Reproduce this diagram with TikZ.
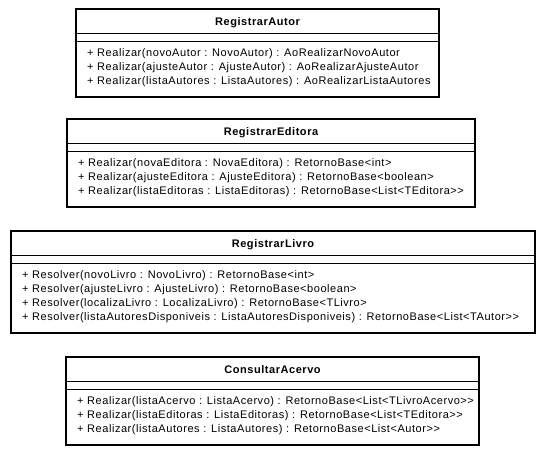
\documentclass[tikz,border=0pt]{standalone}
\usepackage{fontspec}
\setmainfont{Liberation Sans}[LetterSpace=5, Ligatures=TeXOff]
\usepackage{tikz}

\begin{document}
\begin{tikzpicture}[x=1pt, y=-1pt, font=\fontsize{11}{14}\selectfont]
		\tikzstyle{classbox} = [rectangle, anchor=north west, draw=black, line width=2pt, inner sep=0pt, outer sep=0pt, minimum height=88pt]
		
		\tikzstyle{classname} = [anchor=base, inner sep=0pt, font=\fontsize{11}{14}\selectfont\bfseries]
		
		\tikzstyle{operation} = [anchor=base west, inner sep=0pt]
		
		\tikzstyle{compartment} = [draw=black, line width=1pt]
		
		\useasboundingbox (0,0) rectangle (546,455);
		
		% Class boxes
		\node (autor) [classbox, minimum width=363pt] at (76,9) {};
		\node (editora) [classbox, minimum width=408pt] at (67,119) {};
		\node (livro) [classbox, minimum width=524pt, minimum height=102pt] at (11,231) {};
		\node (acervo) [classbox, minimum width=413pt] at (66,357) {};
		
		% Class names
		\node (autorName) [classname] at ([yshift=-16.5pt]autor.north) {RegistrarAutor};
		\node (editoraName) [classname] at ([yshift=-16.5pt]editora.north) {RegistrarEditora};
		\node (livroName) [classname] at ([yshift=-16.5pt]livro.north) {RegistrarLivro};
		\node (acervoName) [classname] at ([yshift=-16.5pt]acervo.north) {ConsultarAcervo};
		
		% Compartments
		\draw [compartment] ([yshift=-24pt]autor.north west) -- ([yshift=-24pt]autor.north east);
		\draw [compartment] ([yshift=-32pt]autor.north west) -- ([yshift=-32pt]autor.north east);
		\draw [compartment] ([yshift=-24pt]editora.north west) -- ([yshift=-24pt]editora.north east);
		\draw [compartment] ([yshift=-32pt]editora.north west) -- ([yshift=-32pt]editora.north east);
		\draw [compartment] ([yshift=-24pt]livro.north west) -- ([yshift=-24pt]livro.north east);
		\draw [compartment] ([yshift=-32pt]livro.north west) -- ([yshift=-32pt]livro.north east);
		\draw [compartment] ([yshift=-24pt]acervo.north west) -- ([yshift=-24pt]acervo.north east);
		\draw [compartment] ([yshift=-32pt]acervo.north west) -- ([yshift=-32pt]acervo.north east);
		
		% Operations of RegistrarAutor
		\node (autorOp1) [operation] at ([shift={(11pt,-47pt)}]autor.north west) {+ Realizar(novoAutor : NovoAutor) : AoRealizarNovoAutor};
		\node (autorOp2) [operation] at ([yshift=-14pt]autorOp1.base west) {+ Realizar(ajusteAutor : AjusteAutor) : AoRealizarAjusteAutor};
		\node (autorOp3) [operation] at ([yshift=-14pt]autorOp2.base west) {+ Realizar(listaAutores : ListaAutores) : AoRealizarListaAutores};
		
		% Operations of RegistrarEditora
		\node (editoraOp1) [operation] at ([shift={(11pt,-47pt)}]editora.north west) {+ Realizar(novaEditora : NovaEditora) : RetornoBase<int>};
		\node (editoraOp2) [operation] at ([yshift=-14pt]editoraOp1.base west) {+ Realizar(ajusteEditora : AjusteEditora) : RetornoBase<boolean>};
		\node (editoraOp3) [operation] at ([yshift=-14pt]editoraOp2.base west) {+ Realizar(listaEditoras : ListaEditoras) : RetornoBase<List<TEditora>>};
		
		% Operations of RegistrarLivro
		\node (livroOp1) [operation] at ([shift={(11pt,-47pt)}]livro.north west) {+ Resolver(novoLivro : NovoLivro) : RetornoBase<int>};
		\node (livroOp2) [operation] at ([yshift=-14pt]livroOp1.base west) {+ Resolver(ajusteLivro : AjusteLivro) : RetornoBase<boolean>};
		\node (livroOp3) [operation] at ([yshift=-14pt]livroOp2.base west) {+ Resolver(localizaLivro : LocalizaLivro) : RetornoBase<TLivro>};
		\node (livroOp4) [operation] at ([yshift=-14pt]livroOp3.base west) {+ Resolver(listaAutoresDisponiveis : ListaAutoresDisponiveis) : RetornoBase<List<TAutor>>};
		
		% Operations of ConsultarAcervo
		\node (acervoOp1) [operation] at ([shift={(11pt,-47pt)}]acervo.north west) {+ Realizar(listaAcervo : ListaAcervo) : RetornoBase<List<TLivroAcervo>>};
		\node (acervoOp2) [operation] at ([yshift=-14pt]acervoOp1.base west) {+ Realizar(listaEditoras : ListaEditoras) : RetornoBase<List<TEditora>>};
		\node (acervoOp3) [operation] at ([yshift=-14pt]acervoOp2.base west) {+ Realizar(listaAutores : ListaAutores) : RetornoBase<List<Autor>>};
		
\end{tikzpicture}
\end{document}
